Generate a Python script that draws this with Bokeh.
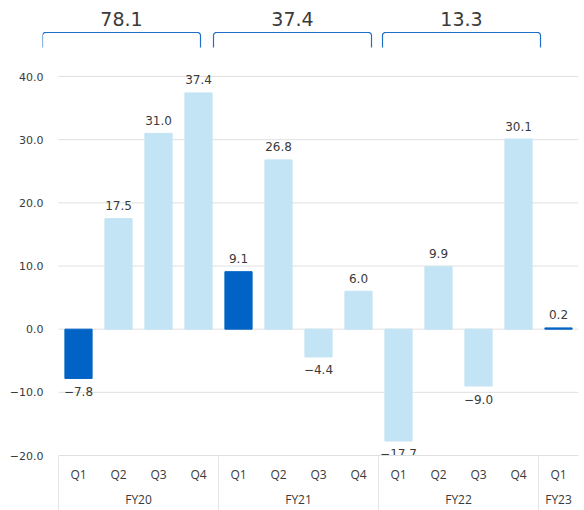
import numpy as np
from bokeh.plotting import figure
from bokeh.models import Range1d, FixedTicker, LinearAxis, ColumnDataSource, PolyAnnotation
from bokeh.core.properties import value
from bokeh.embed import file_html
from bokeh.resources import INLINE

# ---- data ----
fiscal_years = ["FY20", "FY21", "FY22", "FY23"]
quarters_per_year = [4, 4, 4, 1]
quarter_labels = ["Q1", "Q2", "Q3", "Q4", "Q1", "Q2", "Q3", "Q4",
                  "Q1", "Q2", "Q3", "Q4", "Q1"]
growth = [-7.8, 17.5, 31.0, 37.4,
          9.1, 26.8, -4.4, 6.0,
          -17.7, 9.9, -9.0, 30.1,
          0.2]
highlight = [True, False, False, False,
             True, False, False, False,
             False, False, False, False,
             True]
annual_years = ["FY20", "FY21", "FY22"]
annual_totals = [78.1, 37.4, 13.3]
y_ticks = [-20, -10, 0, 10, 20, 30, 40]

# ---- style ----
DARK = "#0063C5"
LIGHT = "#C3E4F4"
TXT = "#3a3a3a"
GRID = "#e0e0e0"
SEP = "#e4e4e4"
BRACE = "#1f6fc8"
NUM_FONT = "DejaVu Sans"
CAT_FONT = "Open Sans"

FRAME_H = 455
Y_MIN = -20
PPU = 379 / 60.0            # pixels per value unit
Y_MAX = Y_MIN + FRAME_H / PPU
PX = 40.0                   # pixels per bar slot
LEFT_PAD = 16               # frame starts this many px left of the first slot

def ypx(px):                # pixel row (from top) -> value
    return Y_MAX - px / PPU

n = len(growth)
xs = np.arange(n)
X0, X1 = -0.5, n - 0.5
XR0 = X0 - LEFT_PAD / PX

def fmt(v):
    return f"{v:.1f}".replace("-", "\u2212")

p = figure(frame_width=520 + LEFT_PAD, frame_height=FRAME_H,
           min_border_left=58 - LEFT_PAD, min_border_right=6,
           min_border_top=0, min_border_bottom=55,
           x_range=Range1d(XR0, X1), y_range=Range1d(Y_MIN, Y_MAX),
           output_backend="svg", toolbar_location=None,
           x_axis_location=None)
p.outline_line_color = None
p.background_fill_color = "white"
p.grid.visible = False

# horizontal grid lines over the bar area only
grid_vals = [t for t in y_ticks if t > Y_MIN]
p.segment(x0=[X0] * len(grid_vals), x1=[X1] * len(grid_vals),
          y0=grid_vals, y1=grid_vals, line_color=GRID, line_width=1)

src = ColumnDataSource(dict(
    x=xs, top=growth,
    color=[DARK if h else LIGHT for h in highlight],
    label=[fmt(v) for v in growth],
    off=[-13 if v >= 0 else 13 for v in growth],
))
p.vbar(x="x", top="top", bottom=0, width=0.68, color="color", source=src)
p.text(x="x", y="top", text="label", y_offset="off", source=src,
       text_align="center", text_baseline="middle",
       text_font=value(NUM_FONT), text_font_size="12px", text_color=TXT)

# y axis
ya = p.yaxis[0]
ya.ticker = FixedTicker(ticks=y_ticks)
ya.major_label_overrides = {t: fmt(t) for t in y_ticks}
ya.axis_line_color = None
ya.major_tick_line_color = None
ya.minor_tick_line_color = None
ya.major_tick_out = 0
ya.major_label_standoff = -1
ya.major_label_text_font = NUM_FONT
ya.major_label_text_font_size = "11px"
ya.major_label_text_color = TXT

# quarter axis
qa = LinearAxis(ticker=FixedTicker(ticks=list(xs)), axis_label=None, bounds=(X0, X1),
                major_label_overrides={int(i): q for i, q in zip(xs, quarter_labels)})
qa.axis_line_color = GRID
qa.major_tick_line_color = None
qa.minor_tick_line_color = None
qa.major_tick_out = 0
qa.major_tick_in = 0
qa.minor_tick_out = 0
qa.minor_tick_in = 0
qa.major_label_standoff = 10
qa.major_label_text_font = CAT_FONT
qa.major_label_text_font_size = "12px"
qa.major_label_text_color = TXT
p.add_layout(qa, "below")

# fiscal-year axis (labels at group centres, separators as minor ticks)
starts = np.cumsum([0] + quarters_per_year[:-1])
centers = [float(s + (c - 1) / 2) for s, c in zip(starts, quarters_per_year)]
bounds = [float(s - 0.5) for s in starts]
fa = LinearAxis(ticker=FixedTicker(ticks=centers, minor_ticks=bounds), axis_label=None,
                major_label_overrides={c: fy for c, fy in zip(centers, fiscal_years)})
fa.axis_line_color = None
fa.major_tick_line_color = None
fa.major_tick_out = 0
fa.major_tick_in = 0
fa.minor_tick_line_color = SEP
fa.minor_tick_in = 29
fa.minor_tick_out = 30
fa.major_label_standoff = -25
fa.major_label_text_font = CAT_FONT
fa.major_label_text_font_size = "12px"
fa.major_label_text_color = TXT
p.add_layout(fa, "below")

# ---- annual brackets above the bars ----
brace_offsets = [(-0.4, -0.45), (-0.125, -0.175), (0.1, 0.05)]
r = 3.0
rx = r / PX
ry = r / PPU
y_top, y_end = ypx(32), ypx(47)
ang = np.linspace(0, np.pi / 2, 6)
label_x = []
for g, (ol, orr) in enumerate(brace_offsets):
    left = bounds[g] + ol
    right = bounds[g] + quarters_per_year[g] + orr
    lx = list(left + rx - rx * np.cos(ang))
    ly = list(y_top - ry + ry * np.sin(ang))
    rxs = list(right - rx + rx * np.sin(ang))
    rys = list(y_top - ry + ry * np.cos(ang))
    fx = [left] + lx + rxs + [right]
    fy = [y_end] + ly + rys + [y_end]
    # trace there and back so the closed outline stays an open bracket
    px_ = fx + fx[::-1][1:-1]
    py_ = fy + fy[::-1][1:-1]
    p.add_layout(PolyAnnotation(xs=px_, ys=py_, fill_alpha=0, line_color=BRACE,
                                line_alpha=1.0, line_width=1.2))
    label_x.append((left + right) / 2)

p.text(x=label_x, y=[ypx(18)] * len(label_x),
       text=[f"{v:.1f}" for v in annual_totals],
       text_align="center", text_baseline="middle",
       text_font=value(NUM_FONT), text_font_size="19px", text_color=TXT)

open("out.html", "w").write(file_html(p, INLINE))
